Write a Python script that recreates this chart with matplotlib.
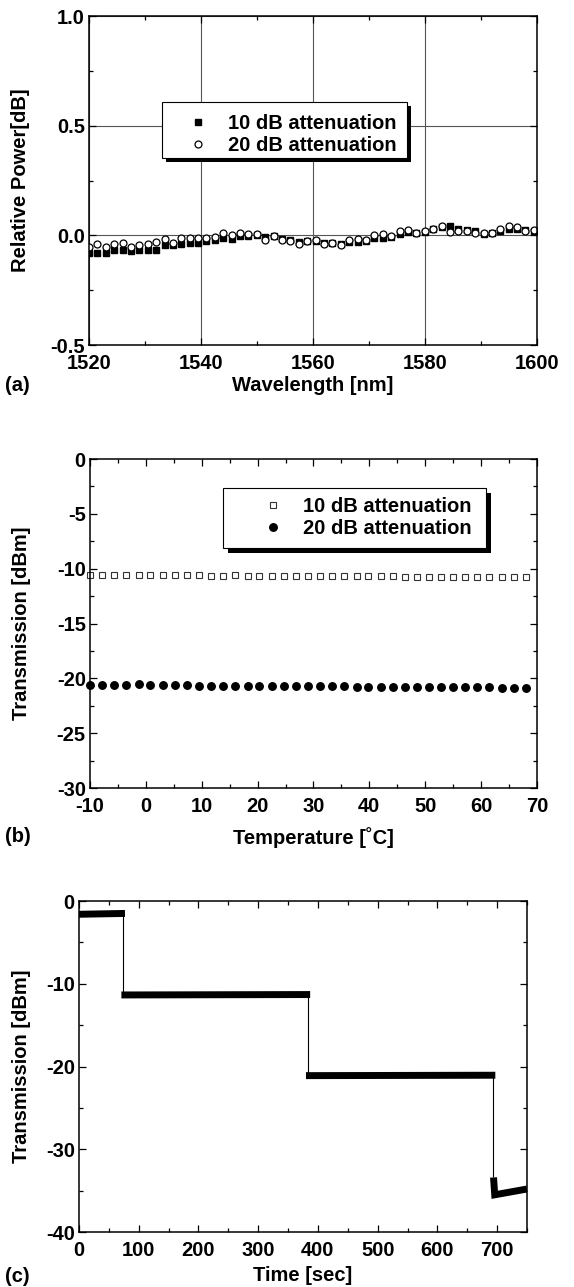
import numpy as np
import matplotlib
matplotlib.use("Agg")
import matplotlib.pyplot as plt
from matplotlib.patches import Rectangle
from matplotlib.ticker import MultipleLocator
from matplotlib.transforms import offset_copy

plt.rcParams["font.family"] = ["Liberation Sans", "DejaVu Sans"]
plt.rcParams["font.weight"] = "bold"
plt.rcParams["axes.unicode_minus"] = False

# (a) relative power vs wavelength
wavelength = np.arange(1520, 1600, 1.5)
power_10db = [-0.079, -0.079, -0.079, -0.065, -0.065, -0.073, -0.065, -0.065, -0.065, -0.046,
              -0.046, -0.041, -0.033, -0.033, -0.026, -0.020, -0.011, -0.015, -0.003, -0.003,
              0.000, -0.008, -0.003, -0.015, -0.020, -0.030, -0.027, -0.024, -0.033, -0.033,
              -0.038, -0.030, -0.030, -0.026, -0.012, -0.011, -0.008, 0.008, 0.015, 0.011,
              0.015, 0.027, 0.038, 0.041, 0.030, 0.023, 0.018, 0.008, 0.011, 0.020,
              0.030, 0.030, 0.023, 0.020]
power_20db = [-0.053, -0.041, -0.053, -0.038, -0.033, -0.053, -0.046, -0.041, -0.030, -0.018,
              -0.035, -0.012, -0.012, -0.012, -0.012, -0.008, 0.011, 0.000, 0.012, 0.005,
              0.008, -0.023, -0.005, -0.020, -0.027, -0.041, -0.027, -0.020, -0.038, -0.033,
              -0.046, -0.023, -0.018, -0.023, 0.000, 0.008, -0.003, 0.018, 0.023, 0.011,
              0.018, 0.030, 0.041, 0.015, 0.020, 0.020, 0.011, 0.011, 0.012, 0.027,
              0.041, 0.038, 0.020, 0.023]

# (b) transmission vs temperature
temperature = [-10.0, -7.8, -5.7, -3.5, -1.3, 0.8, 3.0, 5.2, 7.3, 9.5,
               11.7, 13.8, 16.0, 18.2, 20.3, 22.5, 24.7, 26.8, 29.0, 31.2,
               33.3, 35.5, 37.7, 39.8, 42.0, 44.2, 46.3, 48.5, 50.7, 52.8,
               55.0, 57.2, 59.3, 61.5, 63.7, 65.8, 68.0]
trans_10db = [-10.6, -10.6, -10.6, -10.55, -10.55, -10.6, -10.6, -10.6, -10.6, -10.6,
              -10.65, -10.65, -10.6, -10.65, -10.65, -10.65, -10.65, -10.7, -10.7, -10.65,
              -10.7, -10.7, -10.7, -10.7, -10.7, -10.7, -10.75, -10.75, -10.75, -10.75,
              -10.75, -10.75, -10.8, -10.8, -10.8, -10.8, -10.8]
trans_20db = [-20.6, -20.6, -20.6, -20.6, -20.55, -20.6, -20.6, -20.6, -20.6, -20.65,
              -20.65, -20.65, -20.65, -20.65, -20.7, -20.7, -20.7, -20.7, -20.7, -20.7,
              -20.7, -20.7, -20.75, -20.75, -20.75, -20.75, -20.75, -20.75, -20.75, -20.8,
              -20.8, -20.8, -20.8, -20.8, -20.85, -20.85, -20.85]

# (c) transmission vs time: level segments and switching drops
seg_time = [[0, 77], [71, 387], [380, 697], [694, 696, 750]]
seg_level = [[-1.6, -1.5], [-11.35, -11.3], [-21.1, -21.05], [-33.4, -35.5, -34.8]]
drop_time = [74, 384, 693]
drop_from = [-1.5, -11.3, -21.1]
drop_to = [-11.3, -21.1, -33.4]

fig = plt.figure(figsize=(5.74, 12.87), dpi=100)
ax_a = fig.add_axes([0.155, 0.7319, 0.780, 0.2556])
ax_b = fig.add_axes([0.1568, 0.3877, 0.7787, 0.2556])
ax_c = fig.add_axes([0.1376, 0.0427, 0.7805, 0.2572])

FS = 14.5


def style_axes(ax):
    for sp in ax.spines.values():
        sp.set_linewidth(1.1)
    ax.tick_params(which="both", direction="in", top=True, right=True, labelsize=FS, width=0.9)
    ax.tick_params(which="major", length=5)
    ax.tick_params(which="minor", length=3)
    ax.tick_params(axis="x", which="major", pad=6.5)
    ax.tick_params(axis="y", which="major", pad=3)
    for lab in ax.get_xticklabels() + ax.get_yticklabels():
        lab.set_fontweight("bold")


def place_labels(ax, xlabel, ylabel, xy_x, xy_y):
    ax.set_xlabel(xlabel, fontsize=FS, fontweight="bold")
    ax.set_ylabel(ylabel, fontsize=FS, fontweight="bold")
    ax.xaxis.set_label_coords(0.5, xy_x)
    ax.yaxis.set_label_coords(xy_y, 0.5)
    ax.xaxis.label.set_verticalalignment("center")
    ax.yaxis.label.set_verticalalignment("center")


def boxed_legend(ax, box, anchor, shift):
    x0, y0, x1, y1 = box
    shadow = Rectangle((x0, y0), x1 - x0, y1 - y0, facecolor="k", edgecolor="none", zorder=5,
                       transform=offset_copy(ax.transAxes, fig=fig, x=shift, y=-shift, units="dots"))
    frame = Rectangle((x0, y0), x1 - x0, y1 - y0, facecolor="white", edgecolor="k", lw=0.8,
                      zorder=6, transform=ax.transAxes)
    ax.add_patch(shadow)
    ax.add_patch(frame)
    leg = ax.legend(loc="center left", bbox_to_anchor=anchor, frameon=False, borderpad=0,
                    borderaxespad=0, handlelength=1.0, handletextpad=1.0, labelspacing=0.12,
                    prop={"size": FS, "weight": "bold"})
    leg.set_zorder(7)


# panel a
ax_a.plot(wavelength, power_10db, "s", color="k", ms=4.8, ls="none", label="10 dB attenuation")
ax_a.plot(wavelength, power_20db, "o", mfc="white", mec="k", mew=0.9, ms=5.0, ls="none",
          label="20 dB attenuation")
ax_a.set_xlim(1520, 1600)
ax_a.set_ylim(-0.5, 1.0)
ax_a.xaxis.set_major_locator(MultipleLocator(20))
ax_a.xaxis.set_minor_locator(MultipleLocator(10))
ax_a.yaxis.set_major_locator(MultipleLocator(0.5))
ax_a.yaxis.set_minor_locator(MultipleLocator(0.25))
ax_a.grid(True, which="major", color="#555555", lw=0.8)
ax_a.set_axisbelow(True)
style_axes(ax_a)
place_labels(ax_a, "Wavelength [nm]", "Relative Power[dB]", -0.122, -0.152)
boxed_legend(ax_a, (0.163, 0.568, 0.710, 0.739), (0.221, 0.640), 4)

# panel b
ax_b.plot(temperature, trans_10db, "s", mfc="white", mec="#333333", mew=0.8, ms=5,
          ls="none", label="10 dB attenuation", clip_on=False)
ax_b.plot(temperature, trans_20db, "o", color="k", ms=5.4, ls="none", label="20 dB attenuation",
          clip_on=False)
ax_b.set_xlim(-10, 70)
ax_b.set_ylim(-30, 0)
ax_b.xaxis.set_major_locator(MultipleLocator(10))
ax_b.xaxis.set_minor_locator(MultipleLocator(5))
ax_b.yaxis.set_major_locator(MultipleLocator(5))
ax_b.yaxis.set_minor_locator(MultipleLocator(2.5))
style_axes(ax_b)
place_labels(ax_b, "Temperature [˚C]", "Transmission [dBm]", -0.149, -0.154)
boxed_legend(ax_b, (0.2975, 0.729, 0.886, 0.912), (0.387, 0.822), 5)

# panel c
for t, v in zip(seg_time, seg_level):
    ax_c.plot(t, v, color="k", lw=5, solid_capstyle="butt", solid_joinstyle="miter")
ax_c.vlines(drop_time, drop_from, drop_to, color="k", lw=0.8)
ax_c.set_xlim(0, 750)
ax_c.set_ylim(-40, 0)
ax_c.xaxis.set_major_locator(MultipleLocator(100))
ax_c.xaxis.set_minor_locator(MultipleLocator(50))
ax_c.yaxis.set_major_locator(MultipleLocator(10))
ax_c.yaxis.set_minor_locator(MultipleLocator(5))
style_axes(ax_c)
place_labels(ax_c, "Time [sec]", "Transmission [dBm]", -0.130, -0.129)

fig.text(0.009, 1 - 385 / 1287, "(a)", fontsize=FS, fontweight="bold", va="center")
fig.text(0.009, 1 - 837 / 1287, "(b)", fontsize=FS, fontweight="bold", va="center")
fig.text(0.009, 1 - 1276 / 1287, "(c)", fontsize=FS, fontweight="bold", va="center")

fig.savefig("out.png", dpi=100)
